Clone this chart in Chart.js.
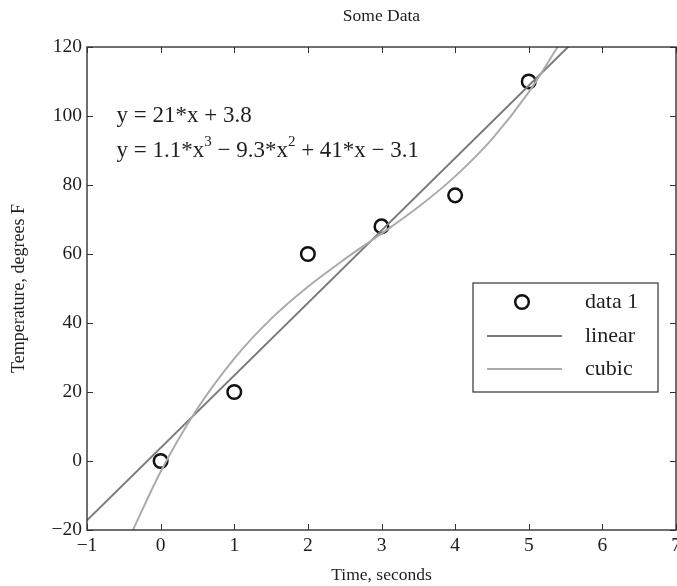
<!DOCTYPE html>
<html>
<head>
<meta charset="utf-8">
<script src="https://cdn.jsdelivr.net/npm/chart.js@4"></script>
<style>
  html, body { margin: 0; padding: 0; background: #fff; }
</style>
</head>
<body>
<canvas id="chart" width="677" height="586"></canvas>
<script>
// measured points
const timeSec = [0, 1, 2, 3, 4, 5];
const tempF = [0, 20, 60, 68, 77, 110];

// linear fit, end points as drawn
const linearX = [-1, 5.6];
const linearY = [-17.2, 121.4];

// cubic fit
const cubicX = [-0.4, 0, 0.5, 1, 1.5, 2, 2.5, 3, 3.5, 4, 4.5, 5, 5.4];
const cubicY = [-21.1, -3.1, 15.2, 29.7, 41.2, 50.5, 58.5, 65.9, 73.6, 82.5, 93.3, 106.9, 120.3];

const xTicks = [-1, 0, 1, 2, 3, 4, 5, 6, 7];
const yTicks = [-20, 0, 20, 40, 60, 80, 100, 120];

const seriesNames = ['data 1', 'linear', 'cubic'];
const eqLinear = [{ t: 'y = 21*x + 3.8' }];
const eqCubic = [
    { t: 'y = 1.1*x' }, { t: '3', sup: true },
    { t: ' \u2212 9.3*x' }, { t: '2', sup: true },
    { t: ' + 41*x \u2212 3.1' }
];

const SERIF = '"Liberation Serif", "DejaVu Serif", serif';
const TEXT = '#1e1e1e';

function toPts(xs, ys) {
    return xs.map((x, i) => ({ x: x, y: ys[i] }));
}

function minus(v) {
    return String(v).replace('-', '\u2212');
}

// draws text with raised small digits, left aligned, middle baseline
function drawParts(ctx, parts, x, y) {
    parts.forEach(p => {
        if (p.sup) {
            ctx.font = '15px ' + SERIF;
            ctx.fillText(p.t, x, y - 8);
        } else {
            ctx.font = '23px ' + SERIF;
            ctx.fillText(p.t, x, y);
        }
        x += ctx.measureText(p.t).width;
    });
}

// box, inward tick marks on all four sides, title, equations, legend
const decorations = {
    id: 'decorations',
    afterDraw(chart) {
        const ctx = chart.ctx;
        const a = chart.chartArea;
        const sx = chart.scales.x;
        const sy = chart.scales.y;
        ctx.save();

        ctx.strokeStyle = '#333';
        ctx.lineWidth = 1;
        ctx.beginPath();
        xTicks.forEach(v => {
            const px = Math.round(sx.getPixelForValue(v)) + 0.5;
            ctx.moveTo(px, a.bottom); ctx.lineTo(px, a.bottom - 6);
            ctx.moveTo(px, a.top); ctx.lineTo(px, a.top + 6);
        });
        yTicks.forEach(v => {
            const py = Math.round(sy.getPixelForValue(v)) + 0.5;
            ctx.moveTo(a.left, py); ctx.lineTo(a.left + 6, py);
            ctx.moveTo(a.right, py); ctx.lineTo(a.right - 6, py);
        });
        ctx.stroke();
        ctx.lineWidth = 1.4;
        ctx.strokeRect(a.left, a.top, a.right - a.left, a.bottom - a.top);

        ctx.fillStyle = TEXT;
        ctx.textBaseline = 'middle';
        ctx.textAlign = 'center';
        ctx.font = '17.5px ' + SERIF;
        ctx.fillText('Some Data', (a.left + a.right) / 2, 16);

        ctx.textAlign = 'left';
        drawParts(ctx, eqLinear, sx.getPixelForValue(-0.6), sy.getPixelForValue(100));
        drawParts(ctx, eqCubic, sx.getPixelForValue(-0.6), sy.getPixelForValue(90));

        // legend
        const bx = a.right - 203, by = 283, bw = 185, bh = 109;
        ctx.fillStyle = '#fff';
        ctx.fillRect(bx, by, bw, bh);
        ctx.strokeStyle = '#333';
        ctx.lineWidth = 1.2;
        ctx.strokeRect(bx, by, bw, bh);
        const ds = chart.data.datasets;
        const rows = [by + 19, by + 53, by + 86];
        rows.forEach((ry, i) => {
            const d = ds[i];
            if (i === 0) {
                ctx.beginPath();
                ctx.arc(bx + 49, ry, d.pointRadius, 0, Math.PI * 2);
                ctx.strokeStyle = d.pointBorderColor;
                ctx.lineWidth = d.pointBorderWidth;
                ctx.stroke();
            } else {
                ctx.beginPath();
                ctx.moveTo(bx + 14, ry);
                ctx.lineTo(bx + 89, ry);
                ctx.strokeStyle = d.borderColor;
                ctx.lineWidth = d.borderWidth;
                ctx.stroke();
            }
            ctx.fillStyle = TEXT;
            ctx.font = '22px ' + SERIF;
            ctx.fillText(d.label, bx + 112, ry);
        });

        ctx.restore();
    }
};

const tickFont = { family: SERIF, size: 19.5 };
const titleFont = { family: SERIF, size: 18 };

new Chart(document.getElementById('chart'), {
    type: 'scatter',
    data: {
        datasets: [
            {
                label: seriesNames[0],
                data: toPts(timeSec, tempF),
                showLine: false,
                pointRadius: 6.8,
                pointBorderWidth: 2.5,
                pointBorderColor: '#111',
                pointBackgroundColor: 'rgba(0,0,0,0)',
                order: 3
            },
            {
                label: seriesNames[1],
                data: toPts(linearX, linearY),
                showLine: true,
                borderColor: '#7b7b7b',
                borderWidth: 2,
                pointRadius: 0,
                order: 2
            },
            {
                label: seriesNames[2],
                data: toPts(cubicX, cubicY),
                showLine: true,
                borderColor: '#ababab',
                borderWidth: 2,
                pointRadius: 0,
                cubicInterpolationMode: 'monotone',
                order: 1
            }
        ]
    },
    options: {
        responsive: false,
        devicePixelRatio: 1,
        animation: false,
        layout: { autoPadding: false, padding: { top: 47, right: 1, bottom: 0, left: 0 } },
        plugins: {
            legend: { display: false },
            tooltip: { enabled: false }
        },
        scales: {
            x: {
                type: 'linear',
                min: -1,
                max: 7,
                afterBuildTicks: s => { s.ticks = xTicks.map(v => ({ value: v })); },
                afterFit: s => { s.height = 56; s.paddingLeft = 0; s.paddingRight = 0; },
                grid: { display: false, drawTicks: false },
                border: { display: false },
                ticks: {
                    font: tickFont, color: TEXT, padding: 4,
                    maxRotation: 0, autoSkip: false,
                    callback: v => minus(v)
                },
                title: {
                    display: true, text: 'Time, seconds',
                    font: { family: SERIF, size: 17.5 }, color: TEXT,
                    padding: { top: 0, bottom: 0 }
                }
            },
            y: {
                type: 'linear',
                min: -20,
                max: 120,
                afterBuildTicks: s => { s.ticks = yTicks.map(v => ({ value: v })); },
                afterFit: s => { s.width = 87; s.paddingTop = 0; s.paddingBottom = 0; },
                grid: { display: false, drawTicks: false },
                border: { display: false },
                ticks: {
                    font: tickFont, color: TEXT, padding: 5,
                    autoSkip: false,
                    callback: v => minus(v)
                },
                title: {
                    display: true, text: 'Temperature, degrees F',
                    font: titleFont, color: TEXT,
                    padding: { top: 8, bottom: 0 }
                }
            }
        }
    },
    plugins: [decorations]
});
</script>
</body>
</html>
